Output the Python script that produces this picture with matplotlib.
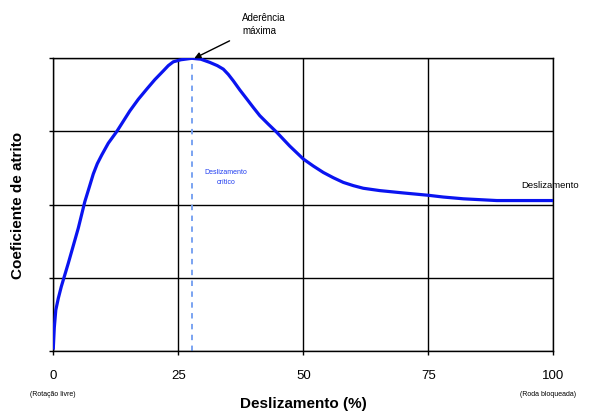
import matplotlib
matplotlib.use('Agg')
import matplotlib.pyplot as plt

plt.rcParams['font.family'] = ['Liberation Sans', 'DejaVu Sans']

# curve (slip % vs friction coefficient, normalised)
slip = [0, 0.2, 0.5, 1.0, 1.6, 2.3, 3.0, 4.0, 5.0, 6.3, 7.2, 8.0, 8.8, 9.7,
        11.0, 12.7, 14.0, 15.3, 17.0, 18.7, 20.3, 22.0, 23.0, 24.0, 25.5,
        27.7, 29.5, 31.3, 32.8, 34.0, 35.0, 36.0, 37.3, 38.7, 40.0, 41.3,
        43.0, 44.7, 47.3, 50.0, 52.0, 54.0, 56.0, 58.0, 60.0, 62.0, 65.3,
        70.0, 75.0, 78.0, 82.0, 88.7, 100.0]
mu = [0.01, 0.08, 0.14, 0.18, 0.22, 0.26, 0.30, 0.36, 0.42, 0.51, 0.56,
      0.605, 0.64, 0.67, 0.71, 0.75, 0.785, 0.82, 0.86, 0.895, 0.927, 0.957,
      0.975, 0.988, 0.995, 1.0, 0.997, 0.986, 0.975, 0.963, 0.945, 0.923,
      0.892, 0.861, 0.832, 0.804, 0.775, 0.747, 0.70, 0.656, 0.632, 0.61,
      0.592, 0.576, 0.565, 0.556, 0.548, 0.54, 0.532, 0.526, 0.52, 0.514,
      0.514]
critical_slip = 27.7
x_ticks = [0, 25, 50, 75, 100]
y_ticks = [0, 0.25, 0.5, 0.75, 1.0]

fig = plt.figure(figsize=(5.94, 4.14), dpi=100)
ax = fig.add_axes([53.3 / 594, 62 / 414, 500 / 594, 292.7 / 414])

ax.plot(slip, mu, color='#0a14f0', linewidth=2.3, zorder=3,
        solid_joinstyle='round')
ax.axvline(critical_slip, color='#6f9cf0', linewidth=1.3,
           linestyle=(0, (3, 3)), zorder=2)

ax.set_xlim(0, 100)
ax.set_ylim(0, 1)
ax.set_xticks(x_ticks)
ax.set_yticks(y_ticks)
ax.set_yticklabels([])
ax.grid(True, color='black', linewidth=1.0)
for s in ax.spines.values():
    s.set_linewidth(1.0)
ax.tick_params(axis='x', labelsize=9.5, length=3, width=1.0, pad=10)
ax.tick_params(axis='y', length=3, width=1.0)

ax.set_xlabel('Deslizamento (%)', fontsize=11, fontweight='bold', labelpad=11)
ax.set_ylabel('Coeficiente de atrito', fontsize=11, fontweight='bold', labelpad=14)

ax.text(0, -0.145, '(Rotação livre)', transform=ax.transAxes,
        fontsize=5, ha='center', va='center')
ax.text(0.99, -0.145, '(Roda bloqueada)', transform=ax.transAxes,
        fontsize=5, ha='center', va='center')

ax.text(34.5, 0.595, 'Deslizamento\ncrítico', color='#1e3cf0', fontsize=5,
        ha='center', va='center', linespacing=1.6)
ax.text(93.5, 0.57, 'Deslizamento', fontsize=6.8, ha='left', va='center',
        clip_on=False)

ax.annotate('Aderência\nmáxima', xy=(28.2, 1.0), xytext=(37.8, 1.118),
            fontsize=7, ha='left', va='center', linespacing=1.4,
            annotation_clip=False,
            arrowprops=dict(arrowstyle='-|>', color='black', lw=1.0,
                            shrinkA=8, shrinkB=0, mutation_scale=9))

fig.savefig('out.png', dpi=100)
